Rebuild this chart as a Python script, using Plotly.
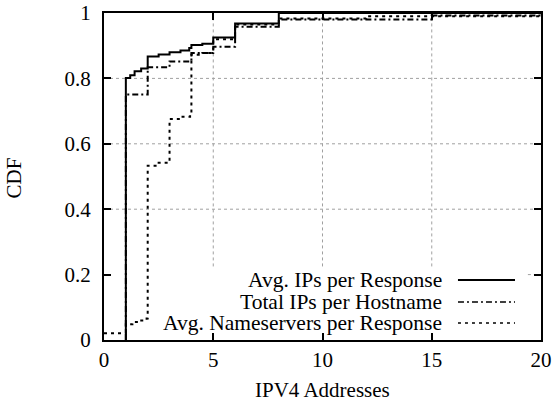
import plotly.graph_objects as go

# ---- data (step CDFs) ----
avg_ips_x = [1, 1, 1.2, 1.4, 1.7, 2, 2.5, 3, 3.5, 3.9, 4, 4.5, 5, 6, 8, 20]
avg_ips_y = [0, 0.801, 0.81, 0.822, 0.83, 0.867, 0.873, 0.88, 0.885, 0.893, 0.902, 0.906, 0.925, 0.968, 1.0, 1.0]

total_ips_x = [1, 1, 2, 3, 4, 5, 6, 8, 15, 20]
total_ips_y = [0, 0.751, 0.834, 0.852, 0.878, 0.897, 0.958, 0.98, 0.992, 1.0]

ns_x = [0, 1, 1.3, 1.6, 1.95, 2, 2.5, 3, 3.5, 3.94, 4, 4.5, 5, 6, 8, 12, 20]
ns_y = [0.021, 0.048, 0.055, 0.06, 0.066, 0.533, 0.542, 0.676, 0.683, 0.688, 0.872, 0.878, 0.92, 0.965, 0.983, 0.99, 1.0]

series_names = ["Avg. IPs per Response", "Total IPs per Hostname", "Avg. Nameservers per Response"]
x_ticks = [0, 5, 10, 15, 20]
y_ticks = [0, 0.2, 0.4, 0.6, 0.8, 1]
y_tick_text = ["0", "0.2", "0.4", "0.6", "0.8", "1"]

FONT = "Liberation Serif"
FS = 21
dashes = ["solid", "6px,3px,2px,3px", "3px,4px"]

fig = go.Figure()
for xs, ys, name, d in [(avg_ips_x, avg_ips_y, series_names[0], dashes[0]),
                        (total_ips_x, total_ips_y, series_names[1], dashes[1]),
                        (ns_x, ns_y, series_names[2], dashes[2])]:
    fig.add_trace(go.Scatter(x=xs, y=ys, mode="lines", line_shape="hv", name=name,
                             line=dict(color="black", width=2, dash=d), showlegend=False))

# grid (dotted), partially hidden by the key box like the original
grid_col = "#a0a0a0"
for gx in [5, 10, 15]:
    fig.add_shape(type="line", x0=gx, x1=gx, y0=0.225, y1=1, xref="x", yref="y",
                  line=dict(color=grid_col, width=1, dash="dot"), layer="below")
for gy in [0.4, 0.6, 0.8]:
    fig.add_shape(type="line", x0=0, x1=20, y0=gy, y1=gy, xref="x", yref="y",
                  line=dict(color=grid_col, width=1, dash="dot"), layer="below")
fig.add_shape(type="line", x0=19.4, x1=20, y0=0.2, y1=0.2, xref="x", yref="y",
              line=dict(color=grid_col, width=1, dash="dot"), layer="below")

# key (text left, sample right)
key_y = [0.1835, 0.116, 0.052]
for name, d, ky in zip(series_names, dashes, key_y):
    fig.add_annotation(x=15.55, y=ky, xref="x", yref="y", text=name, showarrow=False,
                       xanchor="right", yanchor="middle",
                       font=dict(family=FONT, size=21.5, color="black"))
    fig.add_shape(type="line", x0=16.2, x1=18.81, y0=ky, y1=ky, xref="x", yref="y",
                  line=dict(color="black", width=2 if d == "solid" else 1.5, dash=d))

# axis titles
fig.add_annotation(x=0.5, y=-(390 - 340) / 327, xref="paper", yref="paper", text="IPV4 Addresses",
                   showarrow=False, yanchor="middle",
                   font=dict(family=FONT, size=FS, color="black"))
fig.add_annotation(x=-(104 - 13.5) / 437, y=(340 - 178) / 327, xref="paper", yref="paper",
                   text="CDF", textangle=-90, showarrow=False, xanchor="center", yanchor="middle",
                   font=dict(family=FONT, size=FS, color="black"))

axis_common = dict(showline=True, linecolor="black", linewidth=2, mirror="allticks",
                   ticks="inside", ticklen=7, tickwidth=1.5, tickcolor="black",
                   showgrid=False, zeroline=False, automargin=False,
                   tickfont=dict(family=FONT, size=FS, color="black"))
fig.update_xaxes(range=[0, 20], tickvals=x_ticks, ticktext=[str(v) for v in x_ticks],
                 **axis_common)
fig.update_yaxes(range=[0, 1], tickvals=y_ticks, ticktext=[t + "\u00a0\u200a" for t in y_tick_text],
                 **axis_common)

fig.update_layout(width=552, height=404, margin=dict(l=104, r=11, t=13, b=64),
                  plot_bgcolor="white", paper_bgcolor="white",
                  font=dict(family=FONT, size=FS, color="black"))

fig.write_html("out.html")
